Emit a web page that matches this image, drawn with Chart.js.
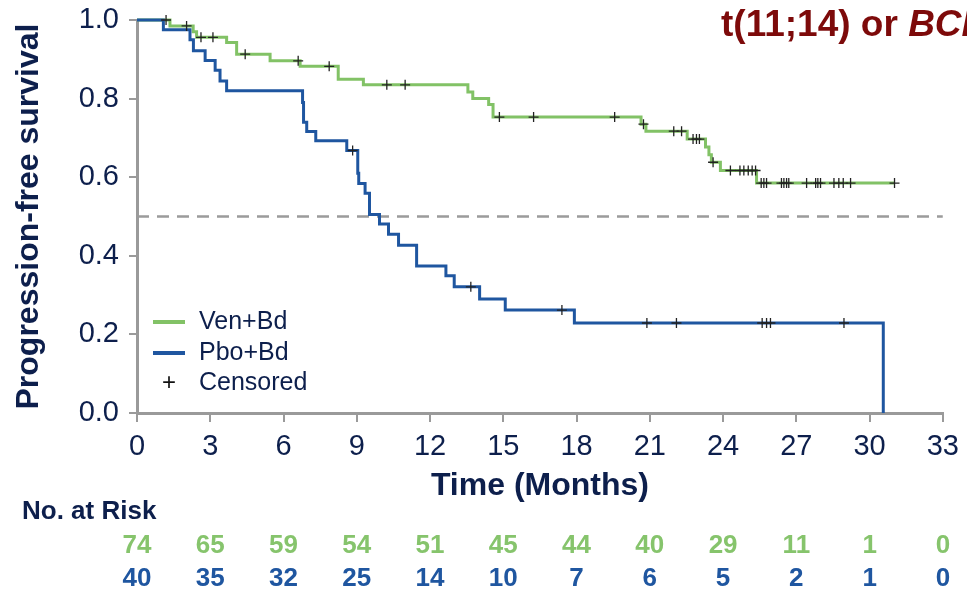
<!DOCTYPE html>
<html>
<head>
<meta charset="utf-8">
<script src="https://cdn.jsdelivr.net/npm/chart.js@4.4.1/dist/chart.umd.min.js"></script>
<style>
  html, body { margin: 0; padding: 0; background: #fff; overflow: hidden; }
  #wrap { position: relative; width: 967px; height: 594px; overflow: hidden; }
  #km { position: absolute; left: 0; top: 0; }
  #title {
    position: absolute; left: 721px; top: -5px; white-space: nowrap;
    font: bold 37px 'Liberation Sans', Arial, sans-serif; color: #7d0a0a;
  }
  .leg { position: absolute; left: 153px; height: 30px; line-height: 30px;
    font: 25px 'Liberation Sans', Arial, sans-serif; color: #0d1f4c; white-space: nowrap; }
  .leg .sw { display: inline-block; width: 32px; height: 4px; vertical-align: middle; margin-right: 14px; }
  .leg .cr { display: inline-block; width: 32px; text-align: center; margin-right: 14px; font-size: 24px; color: #111; }
</style>
</head>
<body>
<div id="wrap">
  <canvas id="km" width="967" height="594"></canvas>
  <div id="title">t(11;14) or <i>BCL2</i><sup>high</sup></div>
  <div class="leg" style="top:306px"><span class="sw" style="background:#82c266"></span>Ven+Bd</div>
  <div class="leg" style="top:337px"><span class="sw" style="background:#1f56a0"></span>Pbo+Bd</div>
  <div class="leg" style="top:367px"><span class="cr">+</span>Censored</div>
</div>
<script>
// Kaplan-Meier steps (time in months, survival after the event)
const venTimes = [0, 1.35, 2.3, 2.44, 3.67, 4.08, 5.45, 6.68, 8.24, 9.27, 13.55, 13.75, 14.4, 14.58, 20.64, 20.84, 22.53, 23.28, 23.42, 23.52, 23.89, 25.37, 31.02];
const venSurv  = [1.0, 0.985, 0.97, 0.956, 0.943, 0.913, 0.896, 0.882, 0.849, 0.835, 0.817, 0.8, 0.785, 0.753, 0.735, 0.717, 0.697, 0.677, 0.657, 0.638, 0.617, 0.585, 0.585];

const pboTimes = [0, 1.08, 2.17, 2.31, 2.79, 3.2, 3.4, 3.67, 6.78, 6.82, 6.95, 7.32, 8.59, 9.04, 9.08, 9.34, 9.52, 9.93, 10.3, 10.71, 11.45, 12.65, 12.99, 14.03, 15.08, 17.91, 30.56];
const pboSurv  = [1.0, 0.975, 0.95, 0.922, 0.897, 0.872, 0.845, 0.82, 0.79, 0.74, 0.716, 0.693, 0.668, 0.61, 0.584, 0.559, 0.505, 0.481, 0.455, 0.427, 0.374, 0.349, 0.321, 0.29, 0.262, 0.229, 0.0];

// censored observation times
const venCensor = [1.19, 2.03, 2.62, 3.11, 4.43, 6.6, 7.87, 10.23, 10.98, 14.84, 16.24, 19.56, 20.74, 21.98, 22.3, 22.77, 22.91, 23.03, 23.59, 24.3, 24.69, 24.85, 25.03, 25.19, 25.33, 25.56, 25.67, 25.78, 26.39, 26.49, 26.6, 26.69, 27.42, 27.79, 27.88, 27.99, 28.54, 28.74, 28.92, 29.22, 31.02];
const pboCensor = [8.83, 13.67, 17.4, 20.88, 22.09, 25.6, 25.78, 25.94, 28.95];

// number at risk table
const riskTimes = [0, 3, 6, 9, 12, 15, 18, 21, 24, 27, 30, 33];
const venRisk = [74, 65, 59, 54, 51, 45, 44, 40, 29, 11, 1, 0];
const pboRisk = [40, 35, 32, 25, 14, 10, 7, 6, 5, 2, 1, 0];

const NAVY = '#0d1f4c';
const GREEN = '#82c266';
const BLUE = '#1f56a0';
const AXIS = '#9a9a9a';
const FONT = "'Liberation Sans', Arial, sans-serif";

function toPoints(times, surv) {
    return times.map((t, i) => ({ x: t, y: surv[i] }));
}

// survival level of a curve at time t (used to put the censor marks on the curve)
function levelAt(times, surv, t) {
    let v = surv[0];
    for (let i = 0; i < times.length; i++) {
        if (times[i] <= t) v = surv[i];
    }
    return v;
}

const censorPoints = venCensor.map(t => ({ x: t, y: levelAt(venTimes, venSurv, t) }))
    .concat(pboCensor.map(t => ({ x: t, y: levelAt(pboTimes, pboSurv, t) })));

// draws the "No. at Risk" table under the x axis
const riskTable = {
    id: 'riskTable',
    afterDraw(chart) {
        const ctx = chart.ctx;
        const x = chart.scales.x;
        ctx.save();
        ctx.textBaseline = 'middle';
        ctx.font = 'bold 26px ' + FONT;
        ctx.fillStyle = NAVY;
        ctx.textAlign = 'left';
        ctx.fillText('No. at Risk', 22, 512);
        ctx.textAlign = 'center';
        riskTimes.forEach((t, i) => {
            const px = x.getPixelForValue(t);
            ctx.fillStyle = '#86c46c';
            ctx.fillText(String(venRisk[i]), px, 546);
            ctx.fillStyle = BLUE;
            ctx.fillText(String(pboRisk[i]), px, 579);
        });
        ctx.restore();
    }
};

new Chart(document.getElementById('km'), {
    type: 'line',
    data: {
        datasets: [
            {
                type: 'scatter',
                label: 'Censored',
                data: censorPoints,
                pointStyle: 'cross',
                pointRadius: 5,
                pointBorderWidth: 1.3,
                borderColor: '#222',
                backgroundColor: '#222',
                clip: 10
            },
            {
                label: 'Pbo+Bd',
                data: toPoints(pboTimes, pboSurv),
                stepped: 'before',
                borderColor: BLUE,
                borderWidth: 3,
                pointRadius: 0,
                fill: false,
                clip: 10
            },
            {
                label: 'Ven+Bd',
                data: toPoints(venTimes, venSurv),
                stepped: 'before',
                borderColor: GREEN,
                borderWidth: 3,
                pointRadius: 0,
                fill: false,
                clip: 10
            },
            {
                label: 'median',
                data: [{ x: 0, y: 0.5 }, { x: 33, y: 0.5 }],
                borderColor: '#9b9b9b',
                borderWidth: 2.5,
                borderDash: [12, 8],
                pointRadius: 0
            }
        ]
    },
    options: {
        responsive: false,
        animation: false,
        devicePixelRatio: 1,
        layout: { padding: { left: 0, top: 20, right: 24, bottom: 89 } },
        plugins: { legend: { display: false }, tooltip: { enabled: false } },
        scales: {
            x: {
                type: 'linear',
                min: 0,
                max: 33,
                afterFit(scale) { scale.height = 92; },
                ticks: { stepSize: 3, color: NAVY, font: { family: FONT, size: 29 }, padding: 8, maxRotation: 0 },
                grid: { drawOnChartArea: false, tickLength: 9, color: AXIS, lineWidth: 2 },
                border: { color: AXIS, width: 3 },
                title: { display: true, text: 'Time (Months)', color: NAVY, font: { family: FONT, size: 32, weight: 'bold' }, padding: { top: 0, bottom: 0 } }
            },
            y: {
                min: 0,
                max: 1,
                afterFit(scale) {
                    scale.width = 137;
                    scale.paddingTop = 0;
                    scale.paddingBottom = 0;
                },
                ticks: { stepSize: 0.2, color: NAVY, font: { family: FONT, size: 29 }, padding: 10, callback: v => v.toFixed(1) },
                grid: { drawOnChartArea: false, tickLength: 8, color: AXIS, lineWidth: 2 },
                border: { color: AXIS, width: 3 },
                title: { display: true, text: 'Progression-free survival', color: NAVY, font: { family: FONT, size: 32, weight: 'bold' }, padding: { top: 10, bottom: 0 } }
            }
        }
    },
    plugins: [riskTable]
});
</script>
</body>
</html>
